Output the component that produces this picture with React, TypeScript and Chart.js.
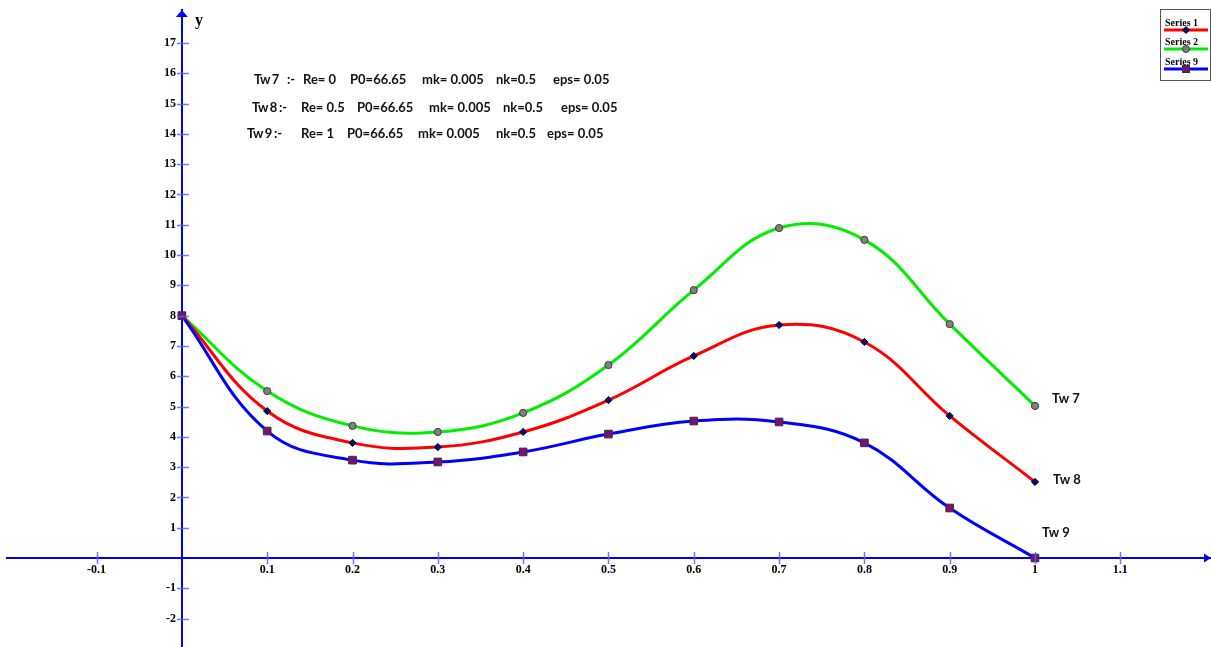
import React, { useEffect, useRef } from "react";
import { Chart, registerables } from "chart.js";

Chart.register(...registerables);

const xValues = [0, 0.1, 0.2, 0.3, 0.4, 0.5, 0.6, 0.7, 0.8, 0.9, 1.0];
const series1 = [8, 4.85, 3.8, 3.66, 4.16, 5.21, 6.67, 7.69, 7.13, 4.69, 2.51];
const series2 = [8, 5.51, 4.36, 4.16, 4.79, 6.37, 8.84, 10.89, 10.5, 7.72, 5.02];
const series9 = [8, 4.19, 3.23, 3.17, 3.5, 4.09, 4.52, 4.49, 3.8, 1.65, 0];

const seriesNames = ["Series 1", "Series 2", "Series 9"];
const endLabels = ["Tw 8", "Tw 7", "Tw 9"];

const annotationRows = [
  ["Tw 7", ":-", "Re= 0", "P0=66.65", "mk= 0.005", "nk=0.5", "eps= 0.05"],
  ["Tw 8", ":-", "Re= 0.5", "P0=66.65", "mk= 0.005", "nk=0.5", "eps= 0.05"],
  ["Tw 9", ":-", "Re= 1", "P0=66.65", "mk= 0.005", "nk=0.5", "eps= 0.05"],
];
const annotationX = [
  [254, 287, 303, 350, 422, 496, 553],
  [252, 279, 301, 357, 429, 503, 561],
  [247, 274, 301, 347, 418, 496, 547],
];
const annotationY = [80, 108, 134];

const X_MIN = -0.205;
const X_MAX = 1.2063;
const Y_MIN = -2.937;
const Y_MAX = 18.086;

const AXIS_BLUE = "#0000ff";
const TICK_FONT = { family: '"Liberation Serif", serif', size: 12, weight: "bold" as const };
const NOTE_FONT = 'bold 13px Lato, "Liberation Sans", sans-serif';

function isAligned(v: number, step: number) {
  const r = Math.round(v / step);
  return Math.abs(v / step - r) < 1e-6;
}

function fmtX(v: number) {
  const r = Math.round(v * 10) / 10;
  return String(r);
}

const decorPlugin = {
  id: "decor",
  afterDraw(chart: any) {
    const ctx = chart.ctx as CanvasRenderingContext2D;
    const xs = chart.scales.x;
    const ys = chart.scales.y;
    const x0 = xs.getPixelForValue(0);
    const y0 = ys.getPixelForValue(0);
    const area = chart.chartArea;
    ctx.save();
    // crossing tick marks
    ctx.strokeStyle = "rgba(90,90,255,0.85)";
    ctx.lineWidth = 1.5;
    xs.ticks.forEach((t: any) => {
      const v = t.value;
      if (!isAligned(v, 0.1) || Math.abs(v) < 1e-6 || v > 1.15) return;
      const px = Math.round(xs.getPixelForValue(v)) + 0.5;
      ctx.beginPath();
      ctx.moveTo(px, y0 - 6);
      ctx.lineTo(px, y0 + 6);
      ctx.stroke();
    });
    ys.ticks.forEach((t: any) => {
      const v = t.value;
      if (!isAligned(v, 1) || Math.abs(v) < 1e-6 || v > 17.5 || v < -2.5) return;
      const py = Math.round(ys.getPixelForValue(v)) + 0.5;
      ctx.beginPath();
      ctx.moveTo(x0 - 5, py);
      ctx.lineTo(x0 + 7, py);
      ctx.stroke();
    });
    // arrows
    ctx.fillStyle = AXIS_BLUE;
    ctx.beginPath();
    ctx.moveTo(x0, area.top);
    ctx.lineTo(x0 - 6, area.top + 7);
    ctx.lineTo(x0 + 6, area.top + 7);
    ctx.closePath();
    ctx.fill();
    ctx.beginPath();
    ctx.moveTo(area.right, y0);
    ctx.lineTo(area.right - 7, y0 - 4.5);
    ctx.lineTo(area.right - 7, y0 + 4.5);
    ctx.closePath();
    ctx.fill();
    // y label
    ctx.fillStyle = "#000";
    ctx.font = 'bold 16px "Liberation Serif", serif';
    ctx.textAlign = "left";
    ctx.textBaseline = "alphabetic";
    ctx.fillText("y", x0 + 13, area.top + 15);

    // annotation text
    ctx.textBaseline = "middle";
    ctx.font = NOTE_FONT;
    ctx.fillStyle = "#111";
    annotationRows.forEach((row, i) => {
      row.forEach((s, j) => {
        (ctx as any).letterSpacing = j === 0 ? "-0.8px" : "0px";
        ctx.fillText(s, annotationX[i][j], annotationY[i]);
      });
    });
    (ctx as any).letterSpacing = "0px";

    // end labels
    const dsMeta = [0, 1, 2].map((i) => chart.getDatasetMeta(i));
    const offsets = [
      [18, -2],
      [17, -7],
      [7, -25],
    ];
    dsMeta.forEach((meta: any, i: number) => {
      const last = meta.data[meta.data.length - 1];
      ctx.fillText(endLabels[i], last.x + offsets[i][0], last.y + offsets[i][1]);
    });

    // legend
    const lx = 1160;
    const ly = 9;
    ctx.fillStyle = "#fff";
    ctx.fillRect(lx, ly, 50, 71);
    ctx.strokeStyle = "#555";
    ctx.lineWidth = 1;
    ctx.strokeRect(lx + 0.5, ly + 0.5, 50, 71);
    const ds = chart.data.datasets;
    const rowsY = [26, 45, 65];
    ctx.font = 'bold 10px "Liberation Serif", serif';
    ctx.textBaseline = "alphabetic";
    ds.forEach((d: any, i: number) => {
      ctx.fillStyle = "#000";
      ctx.fillText(seriesNames[i], lx + 5, rowsY[i]);
      const lineY = rowsY[i] + 4;
      ctx.strokeStyle = d.borderColor;
      ctx.lineWidth = 3;
      ctx.beginPath();
      ctx.moveTo(lx + 4, lineY);
      ctx.lineTo(lx + 48, lineY);
      ctx.stroke();
      ctx.fillStyle = d.pointBackgroundColor;
      ctx.strokeStyle = d.pointBorderColor;
      ctx.lineWidth = 1;
      const mx = lx + 26;
      if (d.pointStyle === "rect") {
        ctx.fillRect(mx - 3.5, lineY - 3.5, 7, 7);
        ctx.strokeRect(mx - 3.5, lineY - 3.5, 7, 7);
      } else if (d.pointStyle === "circle") {
        ctx.beginPath();
        ctx.arc(mx, lineY, 3.5, 0, Math.PI * 2);
        ctx.fill();
        ctx.stroke();
      } else {
        ctx.beginPath();
        ctx.moveTo(mx, lineY - 3.5);
        ctx.lineTo(mx + 3.5, lineY);
        ctx.lineTo(mx, lineY + 3.5);
        ctx.lineTo(mx - 3.5, lineY);
        ctx.closePath();
        ctx.fill();
        ctx.stroke();
      }
    });
    ctx.restore();
  },
};

const zeroPadding = (s: any) => {
  s.paddingLeft = 0;
  s.paddingRight = 0;
  s.paddingTop = 0;
  s.paddingBottom = 0;
};

export default function App() {
  const ref = useRef<HTMLCanvasElement | null>(null);
  useEffect(() => {
    if (!ref.current) return;
    const toPts = (ys: number[]) => xValues.map((x, i) => ({ x, y: ys[i] }));
    const chart = new Chart(ref.current, {
      type: "line",
      data: {
        datasets: [
          {
            label: seriesNames[0],
            data: toPts(series1),
            borderColor: "#ff0000",
            borderWidth: 3,
            tension: 0.4,
            pointStyle: "rectRot",
            pointRadius: 3.6,
            pointBackgroundColor: "#0a0a70",
            pointBorderColor: "#000030",
            pointBorderWidth: 1,
            order: 2,
            clip: false,
          } as any,
          {
            label: seriesNames[1],
            data: toPts(series2),
            borderColor: "#00ee00",
            borderWidth: 3,
            tension: 0.4,
            pointStyle: "circle",
            pointRadius: 3.6,
            pointBackgroundColor: "#808080",
            pointBorderColor: "#3a3a3a",
            pointBorderWidth: 1,
            order: 3,
            clip: false,
          } as any,
          {
            label: seriesNames[2],
            data: toPts(series9),
            borderColor: "#0000ff",
            borderWidth: 3,
            tension: 0.4,
            pointStyle: "rect",
            pointRadius: 5.4,
            pointBackgroundColor: "#7a0f7a",
            pointBorderColor: "#333333",
            pointBorderWidth: 1,
            order: 1,
            clip: false,
          } as any,
        ],
      },
      options: {
        responsive: false,
        animation: false,
        devicePixelRatio: 1,
        layout: { autoPadding: false, padding: { left: 7, top: 10, right: 0, bottom: 0 } } as any,
        plugins: { legend: { display: false }, tooltip: { enabled: false } },
        scales: {
          x: {
            type: "linear",
            min: X_MIN,
            max: X_MAX,
            position: { y: 0 } as any,
            grid: { display: false, drawTicks: false },
            border: { display: true, color: AXIS_BLUE, width: 2 },
            ticks: {
              stepSize: 0.1,
              autoSkip: false,
              maxRotation: 0,
              padding: 5,
              color: "#000",
              font: TICK_FONT,
              callback: (v: any) => {
                const n = Number(v);
                if (!isAligned(n, 0.1) || Math.abs(n) < 1e-6 || n < -0.15 || n > 1.15) return "";
                return fmtX(n);
              },
            },
            afterFit: zeroPadding,
          },
          y: {
            type: "linear",
            min: Y_MIN,
            max: Y_MAX,
            position: { x: 0 } as any,
            grid: { display: false, drawTicks: false },
            border: { display: true, color: AXIS_BLUE, width: 2 },
            ticks: {
              stepSize: 1,
              autoSkip: false,
              padding: 6,
              color: "#000",
              font: TICK_FONT,
              callback: (v: any) => {
                const n = Number(v);
                if (!isAligned(n, 1) || Math.abs(n) < 1e-6 || n > 17.5 || n < -2.5) return "";
                return String(Math.round(n)) + "\u2002";
              },
            },
            afterFit: zeroPadding,
          },
        },
      },
      plugins: [decorPlugin],
    });
    return () => chart.destroy();
  }, []);
  return (
    <div style={{ position: "absolute", left: 0, top: 0, width: 1211, height: 647, background: "#fff" }}>
      <canvas ref={ref} width={1211} height={647} style={{ display: "block" }} />
    </div>
  );
}
